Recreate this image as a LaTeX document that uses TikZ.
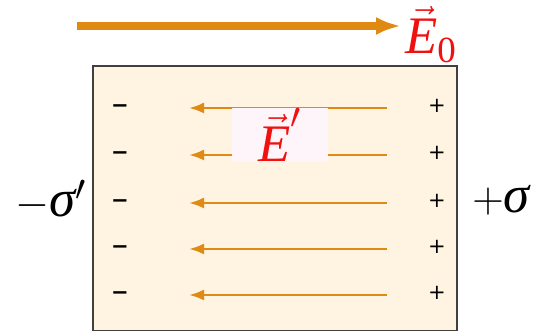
\documentclass[tikz,border=0pt]{standalone}
\usepackage{amsmath}
\usepackage{fontspec}
\setmainfont{Liberation Serif}
\newfontfamily\chargefont{DejaVu Sans}
\usepackage{tikz}
\usetikzlibrary{arrows.meta, positioning}
\usetikzlibrary{calc}

\definecolor{fieldorange}{HTML}{DF8A12}
\definecolor{slabfill}{HTML}{FFF4E2}
\definecolor{labelred}{HTML}{F01010}

\begin{document}
\begin{tikzpicture}[
    charge/.style={font=\chargefont\fontsize{12}{14}\selectfont, inner sep=0pt, text height=1.06ex, text depth=0pt},
    bigmath/.style={font=\fontsize{30}{32}\selectfont, inner sep=0pt},
    fieldline/.style={fieldorange, line width=1.4pt, -{Latex[length=3mm, width=2.2mm]}}
]
    \useasboundingbox (0,0) rectangle (10.7,6.62);

    % Draw the dielectric slab
    \filldraw[fill=slabfill, draw=black!75, line width=1pt] (1.86,0) rectangle (9.14,5.3);

    % External field arrow
    \coordinate (E0_s) at (1.54,6.1);
    \coordinate (E0_e) at (8.02,6.1);
    \draw[fieldorange, line width=4.5pt, -{Latex[length=5mm, width=3.6mm]}] (E0_s) -- (E0_e);
    \node[bigmath, text=labelred] (E0) at (8.62,5.92) {$\vec{\textit{E}}_{\text{0}}$};

    % Bound charges on both faces
    \node[charge] (m1) at (2.4,4.46) {\bfseries −};
    \node[charge] (m2) at (2.4,3.52) {\bfseries −};
    \node[charge] (m3) at (2.4,2.56) {\bfseries −};
    \node[charge] (m4) at (2.4,1.64) {\bfseries −};
    \node[charge] (m5) at (2.4,0.72) {\bfseries −};
    \node[charge] (p1) at (8.74,4.46) {+};
    \node[charge] (p2) at (8.74,3.52) {+};
    \node[charge] (p3) at (8.74,2.56) {+};
    \node[charge] (p4) at (8.74,1.64) {+};
    \node[charge] (p5) at (8.74,0.72) {+};

    % Induced field lines
    \draw[fieldline] ($(p1)+(-1,0)$) -- ($(m1)+(1.38,0)$);
    \draw[fieldline] ($(p2)+(-1,0)$) -- ($(m2)+(1.38,0)$);
    \draw[fieldline] ($(p3)+(-1,0)$) -- ($(m3)+(1.38,0)$);
    \draw[fieldline] ($(p4)+(-1,0)$) -- ($(m4)+(1.38,0)$);
    \draw[fieldline] ($(p5)+(-1,0)$) -- ($(m5)+(1.38,0)$);

    % Label of the induced field
    \node[bigmath, fill=white!96!magenta, text=labelred, minimum width=1.92cm, minimum height=0.82cm] (Ep) at (5.6,3.92) {$\vec{\textit{E}}'$};

    % Surface charge densities
    \node[bigmath] (sl) at (1.02,2.62) {$-\textit{σ}'$};
    \node[bigmath] (sr) at (10.02,2.62) {$+\textit{σ}$};
\end{tikzpicture}
\end{document}
